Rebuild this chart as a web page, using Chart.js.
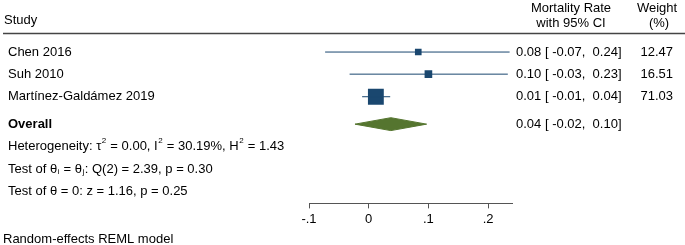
<!DOCTYPE html>
<html><head><meta charset="utf-8">
<script src="https://cdn.jsdelivr.net/npm/chart.js@4/dist/chart.umd.min.js"></script>
<style>html,body{margin:0;padding:0;background:#fff;overflow:hidden}</style>
</head><body>
<canvas id="c" width="685" height="245"></canvas>
<script>
// ---- data ----
const studies = ['Chen 2016', 'Suh 2010', 'Martínez-Galdámez 2019'];
const estimates = [0.083, 0.100, 0.012];
const ciLower = [-0.073, -0.032, -0.011];
const ciUpper = [0.236, 0.233, 0.036];
const weights = [12.47, 16.51, 71.03];
const overallEstimate = 0.037;
const overallLower = -0.023;
const overallUpper = 0.097;
const studyRows = [1, 1.96, 2.94];
const overallRow = 4.13;
const statRows = [5.1, 6.1, 7.05];
const tickValues = [-0.1, 0, 0.1, 0.2];
const tickLabels = ['-.1', '0', '.1', '.2'];
const xMin = -0.1, xMax = 0.24;
const heterogeneity = [['Heterogeneity: τ', ''], ['2', 'sup'], [' = 0.00, I', ''], ['2', 'sup'], [' = 30.19%, H', ''], ['2', 'sup'], [' = 1.43', '']];
const testHomog = [['Test of θ', ''], ['i', 'sub'], [' = θ', ''], ['j', 'sub'], [': Q(2) = 2.39, p = 0.30', '']];
const testZero = [['Test of θ = 0: z = 1.16, p = 0.25', '']];
const modelNote = 'Random-effects REML model';

const NAVY = '#1a476f', GREEN = '#55752f';
const FONT = "'Liberation Sans', Arial, sans-serif";

const datasets = [];
studies.forEach((s, i) => {
  datasets.push({
    data: [{x: ciLower[i], y: studyRows[i]}, {x: ciUpper[i], y: studyRows[i]}],
    showLine: true, borderColor: NAVY, borderWidth: 1, pointRadius: 0, fill: false
  });
});
datasets.push({
  data: estimates.map((e, i) => ({x: e, y: studyRows[i]})),
  pointStyle: 'rect',
  pointRadius: weights.map(w => 1.33 * Math.sqrt(w)),
  backgroundColor: NAVY, borderColor: NAVY, borderWidth: 0
});
const dh = 0.28;
datasets.push({
  data: [
    {x: overallLower, y: overallRow},
    {x: overallEstimate, y: overallRow - dh},
    {x: overallUpper, y: overallRow},
    {x: overallEstimate, y: overallRow + dh},
    {x: overallLower, y: overallRow}
  ],
  showLine: true, fill: 'shape', tension: 0,
  backgroundColor: GREEN, borderColor: GREEN, borderWidth: 1, pointRadius: 0
});

function richText(ctx, parts, x, y) {
  let cx = x;
  parts.forEach(([t, kind]) => {
    if (kind === 'sup') {
      ctx.font = '8px ' + FONT;
      ctx.fillText(t, cx + 0.5, y - 6);
    } else if (kind === 'sub') {
      ctx.font = '8px ' + FONT;
      ctx.fillText(t, cx + 0.5, y + 2);
    } else {
      ctx.font = '13px ' + FONT;
      ctx.fillText(t, cx, y);
    }
    cx += ctx.measureText(t).width + (kind ? 1 : 0);
  });
}

const textPlugin = {
  id: 'forestText',
  afterDraw(chart) {
    const ctx = chart.ctx;
    const ys = chart.scales.y;
    ctx.save();
    ctx.fillStyle = '#000';
    ctx.textBaseline = 'middle';
    // header
    ctx.font = '13px ' + FONT;
    ctx.textAlign = 'left';
    ctx.fillText('Study', 4, 20);
    ctx.textAlign = 'center';
    ctx.fillText('Mortality Rate', 571, 8);
    ctx.fillText('with 95% CI', 571, 23);
    ctx.fillText('Weight', 657, 8);
    ctx.fillText('(%)', 659, 23);
    ctx.strokeStyle = '#444';
    ctx.lineWidth = 1.5;
    ctx.beginPath(); ctx.moveTo(3, 33.5); ctx.lineTo(685, 33.5); ctx.stroke();
    // study rows
    studies.forEach((s, i) => {
      const y = ys.getPixelForValue(studyRows[i]);
      ctx.font = '13px ' + FONT;
      ctx.textAlign = 'left';
      ctx.fillText(s, 8, y);
      ctx.fillText(estimates[i].toFixed(2) + ' [ ' + ciLower[i].toFixed(2) + ',  ' + ciUpper[i].toFixed(2) + ']', 516, y);
      ctx.textAlign = 'right';
      ctx.fillText(weights[i].toFixed(2), 673, y);
    });
    const oy = ys.getPixelForValue(overallRow);
    ctx.textAlign = 'left';
    ctx.font = 'bold 13px ' + FONT;
    ctx.fillText('Overall', 8, oy);
    ctx.font = '13px ' + FONT;
    ctx.fillText(overallEstimate.toFixed(2) + ' [ ' + overallLower.toFixed(2) + ',  ' + overallUpper.toFixed(2) + ']', 516, oy);
    [heterogeneity, testHomog, testZero].forEach((parts, k) => {
      richText(ctx, parts, 8, ys.getPixelForValue(statRows[k]));
    });
    ctx.font = '13px ' + FONT;
    ctx.fillText(modelNote, 3, 239);
    ctx.restore();
  }
};

new Chart(document.getElementById('c'), {
  type: 'scatter',
  data: {datasets},
  options: {
    responsive: false, animation: false, devicePixelRatio: 1,
    layout: {padding: {left: 309, right: 173, top: 29, bottom: 15}},
    plugins: {legend: {display: false}, tooltip: {enabled: false}},
    scales: {
      x: {
        type: 'linear', min: xMin, max: xMax,
        afterBuildTicks: s => { s.ticks = tickValues.map(v => ({value: v})); },
        ticks: {callback: (v, i) => tickLabels[i], font: {size: 13, family: FONT}, color: '#000', padding: 3, maxRotation: 0, autoSkip: false},
        grid: {drawOnChartArea: false, drawTicks: true, tickLength: 5, color: '#555', lineWidth: 1},
        border: {display: true, color: '#555', width: 1}
      },
      y: {type: 'linear', display: false, reverse: true, min: 0, max: 7.57}
    }
  },
  plugins: [textPlugin]
});
</script>
</body></html>
